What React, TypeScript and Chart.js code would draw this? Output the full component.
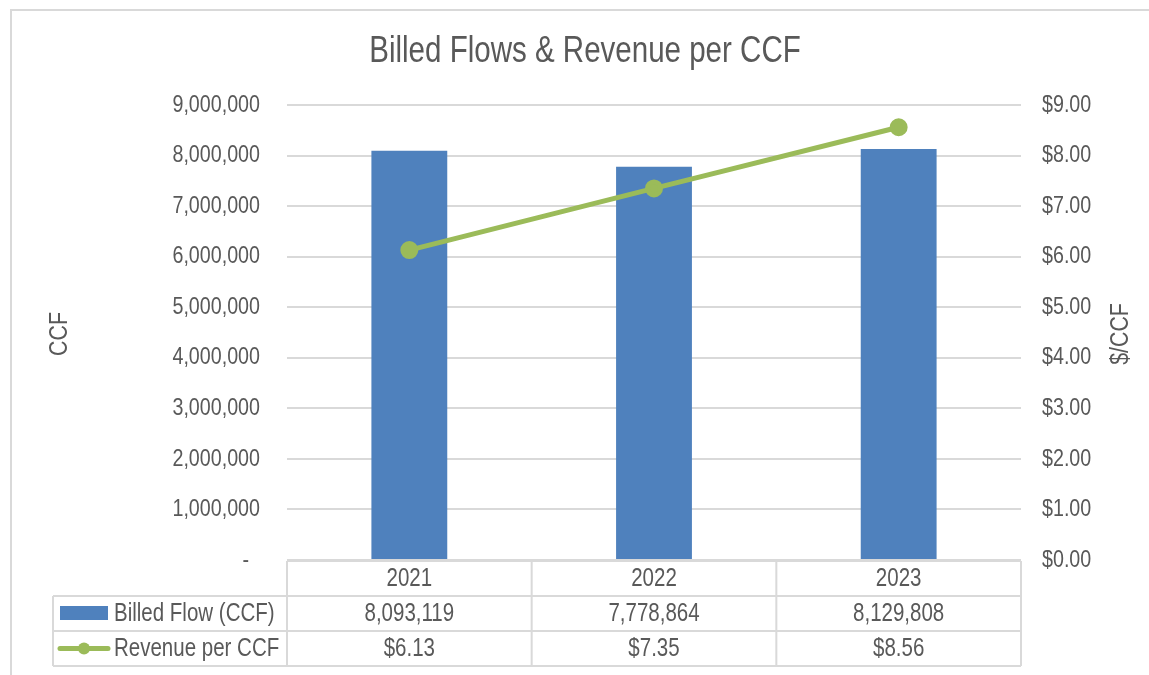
import React, { useEffect, useRef } from "react";
import { Chart, registerables } from "chart.js";

Chart.register(...registerables);

const categories = ["2021", "2022", "2023"];
const billedFlow = [8093119, 7778864, 8129808];
const revenuePerCCF = [6.13, 7.35, 8.56];
const billedFlowLabels = ["8,093,119", "7,778,864", "8,129,808"];
const revenueLabels = ["$6.13", "$7.35", "$8.56"];
const seriesNames = ["Billed Flow (CCF)", "Revenue per CCF"];
const chartTitle = "Billed Flows & Revenue per CCF";
const leftAxisTitle = "CCF";
const rightAxisTitle = "$/CCF";

const FONT = "'Liberation Sans', Arial, sans-serif";
const NARROW = 0.82;
const TEXT = "#595959";
const GRID = "#D9D9D9";
const BLUE = "#4F81BD";
const GREEN = "#9BBB59";

const LEFT_PAD = 27;
const RIGHT_PAD = 21;

const fmtLeft = (v: number) => (v === 0 ? "-  " : v.toLocaleString("en-US"));

function narrowText(ctx: CanvasRenderingContext2D, text: string, x: number, y: number, align: CanvasTextAlign, rot = 0) {
  ctx.save();
  ctx.translate(x, y);
  if (rot) ctx.rotate(rot);
  ctx.scale(NARROW, 1);
  ctx.textAlign = align;
  ctx.textBaseline = "middle";
  ctx.fillText(text, 0, 0);
  ctx.restore();
}

const tablePlugin = {
  id: "tablePlugin",
  afterUpdate(chart: any) {
    const ctx = chart.ctx;
    for (const id of ["y", "y1"]) {
      const s = chart.scales[id];
      if (!s || s.__wrapped) continue;
      const orig = s.drawLabels.bind(s);
      s.drawLabels = (area: any) => {
        const anchor = id === "y" ? s.right - LEFT_PAD : s.left + RIGHT_PAD;
        ctx.save();
        ctx.translate(anchor, 0);
        ctx.scale(NARROW, 1);
        ctx.translate(-anchor, 0);
        orig(area);
        ctx.restore();
      };
      s.__wrapped = true;
    }
  },
  afterDraw(chart: any) {
    const ctx = chart.ctx;
    const area = chart.chartArea;
    const x = chart.scales.x;
    ctx.save();
    ctx.strokeStyle = GRID;
    ctx.lineWidth = 2;
    ctx.strokeRect(11, 10, 1300, 800);

    ctx.fillStyle = TEXT;
    ctx.font = `36px ${FONT}`;
    narrowText(ctx, chartTitle, 585, 52, "center");

    ctx.font = `26px ${FONT}`;
    narrowText(ctx, leftAxisTitle, 60, 334, "center", -Math.PI / 2);
    narrowText(ctx, rightAxisTitle, 1121, 334, "center", -Math.PI / 2);

    const n = categories.length;
    const colW = (area.right - area.left) / n;
    const y0 = area.bottom + 1;
    const y1 = 596;
    const y2 = 631;
    const y3 = 666;
    const legL = 53;
    ctx.strokeStyle = GRID;
    ctx.lineWidth = 2;
    ctx.beginPath();
    ctx.moveTo(area.left, y0);
    ctx.lineTo(area.right, y0);
    for (const yy of [y1, y2, y3]) {
      ctx.moveTo(legL, yy);
      ctx.lineTo(area.right, yy);
    }
    ctx.moveTo(legL, y1);
    ctx.lineTo(legL, y3);
    for (let i = 0; i <= n; i++) {
      const xx = area.left + i * colW;
      ctx.moveTo(xx, y0);
      ctx.lineTo(xx, y3);
    }
    ctx.stroke();

    ctx.fillStyle = TEXT;
    ctx.font = `25px ${FONT}`;
    for (let i = 0; i < n; i++) {
      const cx = x.getPixelForValue(i);
      narrowText(ctx, categories[i], cx, (y0 + y1) / 2 + 1, "center");
      narrowText(ctx, billedFlowLabels[i], cx, (y1 + y2) / 2 + 1, "center");
      narrowText(ctx, revenueLabels[i], cx, (y2 + y3) / 2 + 1, "center");
    }
    ctx.fillStyle = BLUE;
    ctx.fillRect(60, 606, 48, 14);
    ctx.strokeStyle = GREEN;
    ctx.lineWidth = 5;
    ctx.lineCap = "round";
    const ly = (y2 + y3) / 2;
    ctx.beginPath();
    ctx.moveTo(60, ly);
    ctx.lineTo(108, ly);
    ctx.stroke();
    ctx.fillStyle = GREEN;
    ctx.beginPath();
    ctx.arc(84, ly, 6, 0, Math.PI * 2);
    ctx.fill();
    ctx.fillStyle = TEXT;
    narrowText(ctx, seriesNames[0], 114, (y1 + y2) / 2 + 1, "left");
    narrowText(ctx, seriesNames[1], 114, (y2 + y3) / 2 + 1, "left");
    ctx.restore();
  },
};

export default function App() {
  const ref = useRef<HTMLCanvasElement>(null);
  useEffect(() => {
    document.body.style.margin = "0";
    const chart = new Chart(ref.current!, {
      type: "bar",
      data: {
        labels: categories,
        datasets: [
          {
            type: "line",
            label: seriesNames[1],
            data: revenuePerCCF,
            yAxisID: "y1",
            borderColor: GREEN,
            backgroundColor: GREEN,
            borderWidth: 5,
            pointRadius: 6.5,
            pointBackgroundColor: GREEN,
            pointBorderColor: GREEN,
            order: 0,
          },
          {
            type: "bar",
            label: seriesNames[0],
            data: billedFlow,
            yAxisID: "y",
            backgroundColor: BLUE,
            barPercentage: 0.31,
            categoryPercentage: 1,
            order: 1,
          },
        ],
      },
      options: {
        animation: false,
        responsive: false,
        layout: { padding: { top: 105, bottom: 115, left: 0, right: 0 } },
        plugins: { legend: { display: false }, tooltip: { enabled: false } },
        scales: {
          x: { display: false, offset: true, grid: { display: false } },
          y: {
            position: "left",
            min: 0,
            max: 9000000,
            afterFit: (s: any) => { s.width = 287; },
            ticks: {
              stepSize: 1000000,
              color: TEXT,
              font: { family: FONT, size: 24 },
              padding: LEFT_PAD,
              callback: (v: any) => fmtLeft(Number(v)),
            },
            grid: { color: GRID, lineWidth: 2, drawTicks: false },
            border: { display: false },
          },
          y1: {
            position: "right",
            min: 0,
            max: 9,
            afterFit: (s: any) => { s.width = 128; },
            ticks: {
              stepSize: 1,
              color: TEXT,
              font: { family: FONT, size: 24 },
              padding: RIGHT_PAD,
              callback: (v: any) => "$" + Number(v).toFixed(2),
            },
            grid: { display: false, drawTicks: false },
            border: { display: false },
          },
        },
      },
      plugins: [tablePlugin],
    });
    return () => chart.destroy();
  }, []);
  return (
    <div style={{ width: 1149, height: 675, background: "#fff" }}>
      <canvas ref={ref} width={1149} height={675} style={{ display: "block" }} />
    </div>
  );
}
